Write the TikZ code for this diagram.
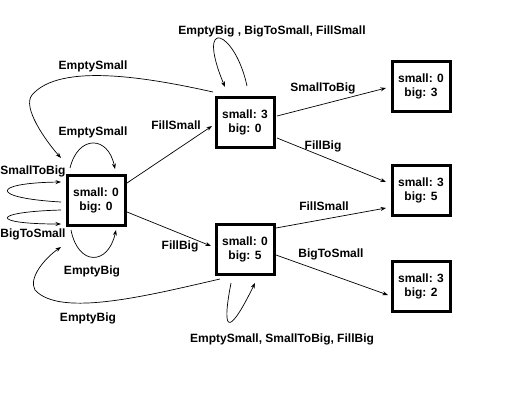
\documentclass[tikz,border=0pt]{standalone}
\usepackage{fontspec}
\setmainfont{Liberation Sans}
\usetikzlibrary{arrows.meta}

\tikzset{
    state/.style={draw, line width=3pt, minimum width=58pt, minimum height=50pt,
        align=center, font=\fontsize{12}{14}\selectfont\bfseries},
    lbl/.style={anchor=base, inner sep=0pt, font=\fontsize{12}{14}\selectfont\bfseries},
    edge/.style={line width=0.7pt, -{Stealth[length=5.5pt, width=4pt]}}
}

\begin{document}
\begin{tikzpicture}[x=1pt, y=-1pt]
        \useasboundingbox (0,0) rectangle (532,400);

        % States
        \node[state] (s00) at (96,200) {small: 0\\big: 0};
        \node[state] (s30) at (245,122.5) {small: 3\\big: 0};
        \node[state] (s05) at (245,249) {small: 0\\big: 5};
        \node[state] (s03) at (421,86.5) {small: 0\\big: 3};
        \node[state] (s35) at (421,190.5) {small: 3\\big: 5};
        \node[state] (s32) at (421,286.5) {small: 3\\big: 2};

        % Moves between states
        \draw[edge] ([shift={(31,-17)}]s00.center) -- ([shift={(-33,3.5)}]s30.center);
        \draw[edge] ([shift={(31,12)}]s00.center) -- ([shift={(-34,-3)}]s05.center);
        \draw[edge] ([shift={(32,-6.5)}]s30.center) -- ([shift={(-35,1.5)}]s03.center);
        \draw[edge] ([shift={(32,15.5)}]s30.center) -- ([shift={(-35,-8.5)}]s35.center);
        \draw[edge] ([shift={(31,-21)}]s05.center) -- ([shift={(-35,17.5)}]s35.center);
        \draw[edge] ([shift={(31,6)}]s05.center) -- ([shift={(-33,8.5)}]s32.center);

        % Back to the start
        \draw[edge] ([shift={(-32,-30.5)}]s30.center) .. controls (150,78) and (60,62) .. (32,95)
            .. controls (22,107) and (45,140) .. ([shift={(-35,-42)}]s00.center);
        \draw[edge] ([shift={(-25,30)}]s05.center) .. controls (150,295) and (60,318) .. (35,290)
            .. controls (28,278) and (45,258) .. ([shift={(-35,47)}]s00.center);

        % Self loops
        \draw[edge] ([shift={(-26,-32)}]s00.center) .. controls (78,135) and (108,135) .. ([shift={(19,-31)}]s00.center);
        \draw[edge] ([shift={(-25,30)}]s00.center) .. controls (78,266) and (108,266) .. ([shift={(20,30)}]s00.center);
        \draw[edge] ([shift={(-35,2)}]s00.center) .. controls (-10,198) and (-10,183) .. ([shift={(-35,-18)}]s00.center);
        \draw[edge] ([shift={(-35,10)}]s00.center) .. controls (-10,212) and (-10,224) .. ([shift={(-35,24)}]s00.center);
        \draw[edge] ([shift={(2,-36.5)}]s30.center) .. controls (235,30) and (195,15) .. ([shift={(-20,-35.5)}]s30.center);
        \draw[edge] ([shift={(-14,34)}]s05.center) .. controls (220,340) and (232,330) .. ([shift={(10,34)}]s05.center);

        % Labels
        \node[lbl] (lFillSmallA) at (176,129.5) {FillSmall};
        \node[lbl] (lFillBigA) at (180,249.5) {FillBig};
        \node[lbl] (lSmallToBigA) at (323,91.5) {SmallToBig};
        \node[lbl] (lFillBigB) at (323,149.5) {FillBig};
        \node[lbl] (lFillSmallB) at (324,210.5) {FillSmall};
        \node[lbl] (lBigToSmallA) at (331,257.5) {BigToSmall};
        \node[lbl] (lEmptySmallA) at (93,69.5) {EmptySmall};
        \node[lbl] (lEmptySmallB) at (93,135.5) {EmptySmall};
        \node[lbl] (lSmallToBigB) at (33,174.5) {SmallToBig};
        \node[lbl] (lBigToSmallB) at (33,237.5) {BigToSmall};
        \node[lbl] (lEmptyBigA) at (92,274.5) {EmptyBig};
        \node[lbl] (lEmptyBigB) at (88,321.5) {EmptyBig};
        \node[lbl] (lLoopThree) at (272,34.5) {EmptyBig , BigToSmall, FillSmall};
        \node[lbl] (lLoopFive) at (282,342.5) {EmptySmall, SmallToBig, FillBig};
    \end{tikzpicture}
\end{document}
